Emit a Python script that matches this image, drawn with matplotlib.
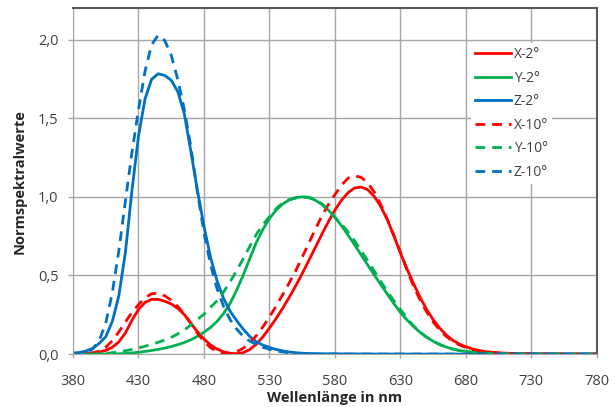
import matplotlib
matplotlib.use("Agg")
import matplotlib.pyplot as plt
from matplotlib.ticker import FuncFormatter

plt.rcParams['font.family'] = ['Open Sans', 'DejaVu Sans']

# Wellenlängen (5 nm bis 700, danach 10 nm)
wl = list(range(380, 701, 5)) + list(range(710, 781, 10))

# CIE 1931 2° Normspektralwerte
x2 = [0.001368, 0.002236, 0.004243, 0.007650, 0.014310, 0.023190, 0.043510, 0.077630,
      0.134380, 0.214770, 0.283900, 0.328500, 0.348280, 0.348060, 0.336200, 0.318700,
      0.290800, 0.251100, 0.195360, 0.142100, 0.095640, 0.057950, 0.032010, 0.014700,
      0.004900, 0.002400, 0.009300, 0.029100, 0.063270, 0.109600, 0.165500, 0.225750,
      0.290400, 0.359700, 0.433450, 0.512050, 0.594500, 0.678400, 0.762100, 0.842500,
      0.916300, 0.978600, 1.026300, 1.056700, 1.062200, 1.045600, 1.002600, 0.938400,
      0.854450, 0.751400, 0.642400, 0.541900, 0.447900, 0.360800, 0.283500, 0.218700,
      0.164900, 0.121200, 0.087400, 0.063600, 0.046770, 0.032900, 0.022700, 0.016000,
      0.011359, 0.005790, 0.002899, 0.001440, 0.000690, 0.000332, 0.000166, 0.000083,
      0.000042]
y2 = [0.000039, 0.000064, 0.000120, 0.000217, 0.000396, 0.000640, 0.001210, 0.002180,
      0.004000, 0.007300, 0.011600, 0.016840, 0.023000, 0.029800, 0.038000, 0.048000,
      0.060000, 0.073900, 0.090980, 0.112600, 0.139020, 0.169300, 0.208020, 0.258600,
      0.323000, 0.407300, 0.503000, 0.608200, 0.710000, 0.793200, 0.862000, 0.915050,
      0.954000, 0.980000, 0.994950, 1.000000, 0.995000, 0.978600, 0.952000, 0.915400,
      0.870000, 0.816300, 0.757000, 0.694900, 0.631000, 0.566800, 0.503000, 0.441200,
      0.381000, 0.321000, 0.265000, 0.217000, 0.175000, 0.138200, 0.107000, 0.081600,
      0.061000, 0.044580, 0.032000, 0.023200, 0.017000, 0.011920, 0.008210, 0.005723,
      0.004102, 0.002091, 0.001047, 0.000520, 0.000249, 0.000120, 0.000060, 0.000030,
      0.000015]
z2 = [0.006450, 0.010550, 0.020050, 0.036210, 0.067850, 0.110200, 0.207400, 0.371300,
      0.645600, 1.039050, 1.385600, 1.622960, 1.747060, 1.782600, 1.772110, 1.741480,
      1.669200, 1.528100, 1.287640, 1.041900, 0.812950, 0.616200, 0.465180, 0.353300,
      0.272000, 0.212300, 0.158200, 0.111700, 0.078250, 0.057250, 0.042160, 0.029840,
      0.020300, 0.013400, 0.008750, 0.005750, 0.003900, 0.002750, 0.002100, 0.001800,
      0.001650, 0.001400, 0.001100, 0.001000, 0.000800, 0.000600, 0.000340, 0.000240,
      0.000190, 0.000100, 0.000050, 0.000030, 0.000020, 0.000010, 0.0, 0.0,
      0.0, 0.0, 0.0, 0.0, 0.0, 0.0, 0.0, 0.0,
      0.0, 0.0, 0.0, 0.0, 0.0, 0.0, 0.0, 0.0,
      0.0]

# CIE 1964 10° Normspektralwerte
x10 = [0.000160, 0.000662, 0.002362, 0.007242, 0.019110, 0.043400, 0.084736, 0.140638,
       0.204492, 0.264737, 0.314679, 0.357719, 0.383734, 0.386726, 0.370702, 0.342957,
       0.302273, 0.254085, 0.195618, 0.132349, 0.080507, 0.041072, 0.016172, 0.005132,
       0.003816, 0.015444, 0.037465, 0.071358, 0.117749, 0.172953, 0.236491, 0.304213,
       0.376772, 0.451584, 0.529826, 0.616053, 0.705224, 0.793832, 0.878655, 0.951162,
       1.014160, 1.074300, 1.118520, 1.134300, 1.123990, 1.089100, 1.030480, 0.950740,
       0.856297, 0.754930, 0.647467, 0.535110, 0.431567, 0.343690, 0.268329, 0.204300,
       0.152568, 0.112210, 0.081261, 0.057930, 0.040851, 0.028623, 0.019941, 0.013842,
       0.009577, 0.004553, 0.002175, 0.001045, 0.000508, 0.000251, 0.000126, 0.000065,
       0.000033]
y10 = [0.000017, 0.000072, 0.000253, 0.000769, 0.002004, 0.004509, 0.008756, 0.014456,
       0.021391, 0.029497, 0.038676, 0.049715, 0.062077, 0.074704, 0.089456, 0.106256,
       0.128201, 0.152761, 0.185190, 0.219940, 0.253589, 0.297665, 0.339133, 0.395379,
       0.460777, 0.531360, 0.606741, 0.685660, 0.761757, 0.823330, 0.875211, 0.923810,
       0.961988, 0.982200, 0.991761, 0.999110, 0.997340, 0.982380, 0.955552, 0.915175,
       0.868934, 0.825623, 0.777405, 0.720353, 0.658341, 0.593878, 0.527963, 0.461834,
       0.398057, 0.339554, 0.283493, 0.228254, 0.179828, 0.140211, 0.107633, 0.081187,
       0.060281, 0.044096, 0.031800, 0.022602, 0.015905, 0.011130, 0.007749, 0.005375,
       0.003734, 0.001774, 0.000849, 0.000408, 0.000199, 0.000098, 0.000049, 0.000025,
       0.000013]
z10 = [0.000705, 0.002928, 0.010482, 0.032344, 0.086011, 0.197120, 0.389366, 0.656760,
       0.972542, 1.282500, 1.553480, 1.798500, 1.967280, 2.027300, 1.994800, 1.900700,
       1.745370, 1.554900, 1.317560, 1.030200, 0.772125, 0.570060, 0.415254, 0.302356,
       0.218502, 0.159249, 0.112044, 0.082248, 0.060709, 0.043050, 0.030451, 0.020584,
       0.013676, 0.007918, 0.003988, 0.001091, 0.0, 0.0, 0.0, 0.0,
       0.0, 0.0, 0.0, 0.0, 0.0, 0.0, 0.0, 0.0,
       0.0, 0.0, 0.0, 0.0, 0.0, 0.0, 0.0, 0.0,
       0.0, 0.0, 0.0, 0.0, 0.0, 0.0, 0.0, 0.0,
       0.0, 0.0, 0.0, 0.0, 0.0, 0.0, 0.0, 0.0,
       0.0]

red = '#FF0000'
green = '#00B050'
blue = '#0070C0'

fig = plt.figure(figsize=(6.16, 4.07), dpi=100)
ax = fig.add_axes([0.1185, 0.130, 0.8505, 0.850])

lw = 2.0
dash = (3.5, 2.5)
ax.plot(wl, x2, color=red, lw=lw, label='X-2°')
ax.plot(wl, y2, color=green, lw=lw, label='Y-2°')
ax.plot(wl, z2, color=blue, lw=lw, label='Z-2°')
ax.plot(wl, x10, color=red, lw=lw, dashes=dash, label='X-10°')
ax.plot(wl, y10, color=green, lw=lw, dashes=dash, label='Y-10°')
ax.plot(wl, z10, color=blue, lw=lw, dashes=dash, label='Z-10°')

ax.set_xlim(380, 780)
ax.set_ylim(0, 2.2)
ax.set_xticks(range(380, 781, 50))
ax.set_yticks([0, 0.5, 1.0, 1.5, 2.0])
ax.yaxis.set_major_formatter(FuncFormatter(lambda v, p: f'{v:.1f}'.replace('.', ',')))
ax.grid(True, color='#A6A6A6', lw=1.0)
ax.set_axisbelow(True)

ax.tick_params(axis='both', labelsize=10.5, colors='#404040', width=1, color='#A6A6A6')
ax.tick_params(axis='x', length=3, pad=11)
ax.tick_params(axis='y', length=3.5, pad=7)
for s in ['left', 'bottom']:
    ax.spines[s].set_color('#A6A6A6')
for s in ['top', 'right']:
    ax.spines[s].set_color('#595959')
    ax.spines[s].set_linewidth(1.5)

ax.set_xlabel('Wellenlänge in nm', fontsize=10.5, fontweight='bold', color='#262626', labelpad=2)
ax.set_ylabel('Normspektralwerte', fontsize=10.5, fontweight='bold', color='#262626', labelpad=8)

leg = ax.legend(loc='upper right', bbox_to_anchor=(0.928, 0.919), frameon=True, fontsize=10,
                handlelength=2.6, labelspacing=0.61, handletextpad=0.2, borderpad=0.3)
leg.get_frame().set_edgecolor('none')
leg.get_frame().set_facecolor('white')
leg.get_frame().set_alpha(1)
leg.get_frame().set_boxstyle('square', pad=0)
for t in leg.get_texts():
    t.set_color('#404040')

fig.savefig('out.png', dpi=100)
